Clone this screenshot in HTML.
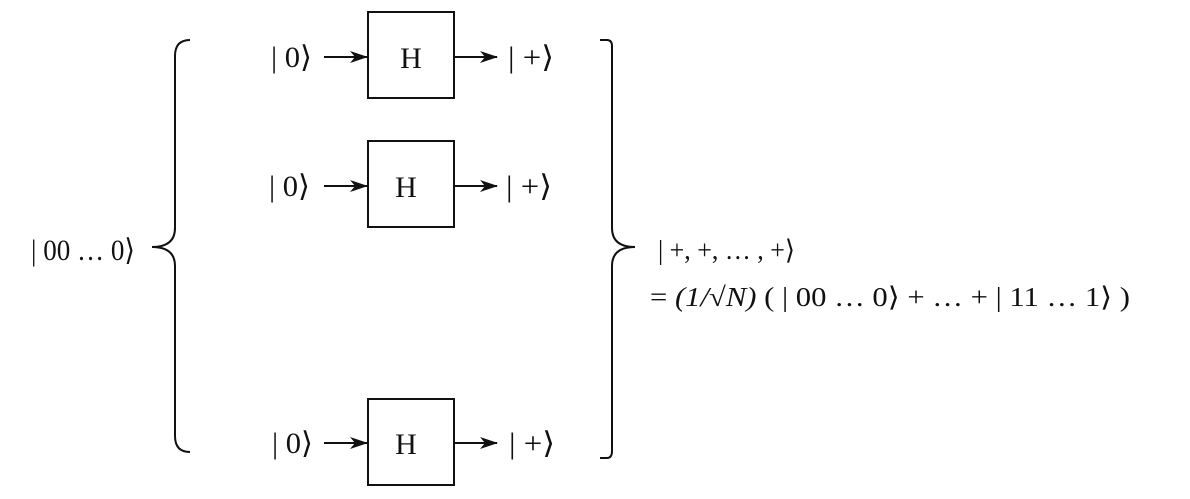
<!DOCTYPE html>
<html><head><meta charset="utf-8"><style>
html,body{margin:0;padding:0;background:#fff;}
svg{display:block}
text{font-family:"Liberation Serif","DejaVu Serif",serif;fill:#111;}
</style></head><body>
<svg width="1190" height="499" viewBox="0 0 1190 499">
<defs><marker id="a" markerWidth="18" markerHeight="12" refX="17" refY="6" orient="auto" markerUnits="userSpaceOnUse"><path d="M0,0 L18,6 L0,12 L5,6 Z" fill="#111"/></marker></defs>
<g fill="none" stroke="#111" stroke-width="2">
<rect x="368" y="12" width="86" height="86"/>
<rect x="368" y="141" width="86" height="86"/>
<rect x="368" y="399" width="86" height="86"/>
<path d="M190,40 Q175,40 175,56 L175,228 Q175,247 152,247 Q175,247 175,266 L175,436 Q175,452 190,452"/>
<path d="M600,40 L607,40 Q612,40 612,46 L612,228 Q612,247 635,247 Q612,247 612,266 L612,451 Q612,458 607,458 L600,458"/>
</g>
<g stroke="#111" stroke-width="2" marker-end="url(#a)">
<line x1="324" y1="57" x2="367" y2="57"/><line x1="455" y1="57" x2="497" y2="57"/>
<line x1="324" y1="186" x2="367" y2="186"/><line x1="455" y1="186" x2="497" y2="186"/>
<line x1="324" y1="443" x2="367" y2="443"/><line x1="455" y1="443" x2="497" y2="443"/>
</g>
<g font-size="30" text-anchor="middle">
<text x="411" y="68">H</text><text x="406" y="197">H</text><text x="406" y="454">H</text>
</g>
<g font-size="30" lengthAdjust="spacingAndGlyphs">
<text x="271" y="67" textLength="41" lengthAdjust="spacingAndGlyphs">| 0⟩</text><text x="508" y="67" textLength="46" lengthAdjust="spacingAndGlyphs">| +⟩</text>
<text x="269" y="196" textLength="41" lengthAdjust="spacingAndGlyphs">| 0⟩</text><text x="506" y="196" textLength="46" lengthAdjust="spacingAndGlyphs">| +⟩</text>
<text x="272" y="453" textLength="41" lengthAdjust="spacingAndGlyphs">| 0⟩</text><text x="509" y="453" textLength="46" lengthAdjust="spacingAndGlyphs">| +⟩</text>
<text x="31" y="260" textLength="104" lengthAdjust="spacingAndGlyphs">| 00 … 0⟩</text>
</g>
<g font-size="27">
<text x="658" y="259" textLength="137" lengthAdjust="spacingAndGlyphs">| +, +, … , +⟩</text>
<text x="650" y="306" textLength="480" lengthAdjust="spacingAndGlyphs">= <tspan font-style="italic">(1/√N)</tspan> (  | 00 … 0⟩ + … + | 11 … 1⟩ )</text>
</g>
</svg>
</body></html>
